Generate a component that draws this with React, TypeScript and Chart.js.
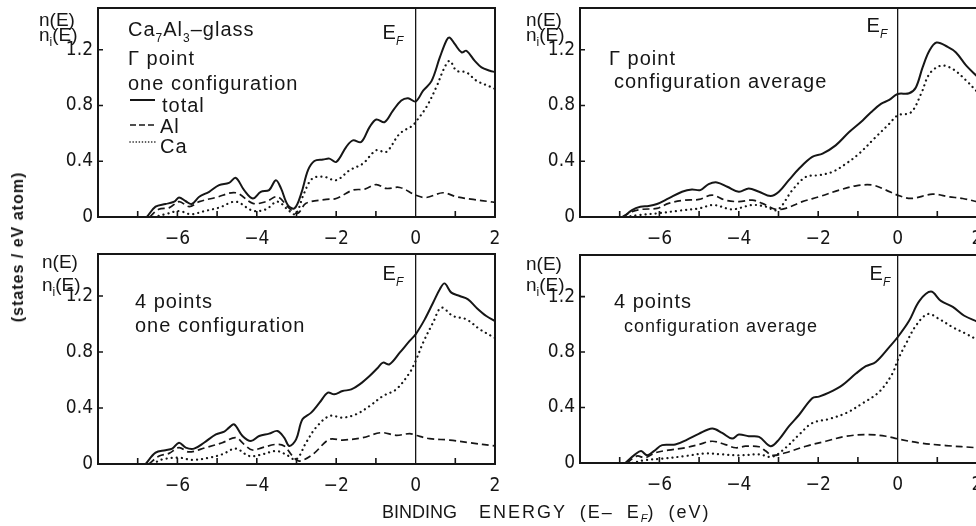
import React, { useEffect, useRef } from 'react';
import { Chart, registerables } from 'chart.js';

Chart.register(...registerables);

// ---- axis ticks -------------------------------------------------------
const xAllTicks = [-8, -7, -6, -5, -4, -3, -2, -1, 0, 1, 2];
const xInnerTicks = [-7, -6, -5, -4, -3, -2, -1, 1];
const xLabelValues = [-6, -4, -2, 0, 2];
const xTickLabels = ['\u22126', '\u22124', '\u22122', '0', '2'];
const yTickValues = [0, 0.4, 0.8, 1.2];
const yTickLabels = ['0', '0.4', '0.8', '1.2'];

// ---- densities of states: [E - E_F (eV), n (states/eV atom)] ----------
// Γ point, one configuration
const gammaOneTotal = [[-6.77,0],[-6.55,0.074],[-6.3,0.093],[-6.08,0.11],[-5.96,0.14],[-5.79,0.113],[-5.64,0.093],[-5.45,0.145],[-5.2,0.181],[-4.95,0.229],[-4.7,0.245],[-4.53,0.281],[-4.32,0.193],[-4.1,0.133],[-3.9,0.181],[-3.69,0.193],[-3.52,0.264],[-3.39,0.205],[-3.22,0.086],[-3.05,0.062],[-2.88,0.169],[-2.71,0.336],[-2.55,0.402],[-2.33,0.412],[-2.17,0.419],[-2.0,0.395],[-1.75,0.502],[-1.58,0.55],[-1.37,0.538],[-1.16,0.645],[-0.99,0.7],[-0.78,0.681],[-0.57,0.764],[-0.36,0.836],[-0.19,0.853],[0,0.829],[0.19,0.907],[0.4,0.975],[0.61,1.145],[0.78,1.269],[0.86,1.288],[0.99,1.24],[1.16,1.181],[1.28,1.193],[1.49,1.121],[1.66,1.074],[1.87,1.05],[2,1.04]];
const gammaOneAl = [[-6.7,0],[-6.47,0.055],[-6.2,0.067],[-5.96,0.11],[-5.7,0.074],[-5.45,0.11],[-5.03,0.14],[-4.53,0.174],[-4.1,0.098],[-3.77,0.11],[-3.48,0.145],[-3.18,0.062],[-2.97,0.026],[-2.76,0.098],[-2.25,0.126],[-2.0,0.133],[-1.58,0.193],[-1.28,0.2],[-0.99,0.233],[-0.74,0.205],[-0.4,0.212],[0,0.157],[0.27,0.14],[0.69,0.174],[1.03,0.145],[1.45,0.126],[1.87,0.11],[2,0.105]];
const gammaOneCa = [[-6.6,0],[-6.3,0.02],[-5.96,0.043],[-5.66,0.02],[-5.28,0.045],[-4.95,0.067],[-4.53,0.11],[-4.1,0.045],[-3.77,0.055],[-3.48,0.11],[-3.18,0.043],[-3.02,0.02],[-2.81,0.17],[-2.6,0.276],[-2.3,0.288],[-2.0,0.264],[-1.66,0.336],[-1.33,0.383],[-0.99,0.479],[-0.74,0.467],[-0.4,0.598],[-0.07,0.657],[0,0.681],[0.27,0.788],[0.52,0.931],[0.73,1.074],[0.86,1.121],[1.03,1.05],[1.28,1.038],[1.53,0.979],[1.87,0.936],[2,0.92]];

// Γ point, configuration average
const gammaAvgTotal = [[-6.9,0],[-6.69,0.05],[-6.48,0.074],[-6.27,0.079],[-6.06,0.093],[-5.77,0.133],[-5.43,0.181],[-5.18,0.198],[-4.97,0.193],[-4.76,0.236],[-4.55,0.248],[-4.29,0.217],[-4.0,0.181],[-3.75,0.205],[-3.49,0.181],[-3.2,0.15],[-2.99,0.181],[-2.74,0.264],[-2.48,0.348],[-2.15,0.431],[-1.89,0.455],[-1.56,0.514],[-1.22,0.61],[-0.88,0.693],[-0.67,0.752],[-0.42,0.812],[-0.21,0.84],[0,0.883],[0.29,0.888],[0.46,0.93],[0.63,1.074],[0.8,1.193],[0.98,1.252],[1.26,1.221],[1.47,1.181],[1.73,1.086],[2,1.01]];
const gammaAvgAl = [[-6.94,0],[-6.69,0.038],[-6.44,0.055],[-6.06,0.062],[-5.77,0.098],[-5.35,0.121],[-5.0,0.126],[-4.67,0.157],[-4.34,0.121],[-4.0,0.11],[-3.66,0.121],[-3.41,0.098],[-3.07,0.055],[-2.82,0.062],[-2.4,0.11],[-1.98,0.145],[-1.47,0.193],[-1.05,0.224],[-0.63,0.229],[-0.29,0.193],[0,0.157],[0.34,0.133],[0.88,0.164],[1.3,0.145],[1.64,0.133],[2,0.11]];
const gammaAvgCa = [[-6.86,0],[-6.52,0.014],[-6.06,0.026],[-5.51,0.045],[-5.0,0.062],[-4.63,0.086],[-4.17,0.055],[-3.66,0.086],[-3.32,0.074],[-3.03,0.05],[-2.65,0.193],[-2.31,0.288],[-1.98,0.3],[-1.64,0.324],[-1.3,0.383],[-0.97,0.455],[-0.55,0.574],[-0.21,0.669],[0,0.729],[0.34,0.752],[0.59,0.883],[0.8,1.026],[1.09,1.086],[1.39,1.062],[1.73,0.979],[2,0.9]];

// 4 k-points, one configuration
const fourOneTotal = [[-6.8,0],[-6.55,0.081],[-6.3,0.098],[-6.13,0.11],[-5.96,0.152],[-5.79,0.117],[-5.58,0.11],[-5.33,0.152],[-5.03,0.212],[-4.82,0.231],[-4.7,0.26],[-4.57,0.283],[-4.36,0.2],[-4.15,0.164],[-3.94,0.2],[-3.69,0.217],[-3.48,0.236],[-3.31,0.188],[-3.18,0.129],[-3.01,0.176],[-2.85,0.319],[-2.63,0.367],[-2.42,0.438],[-2.21,0.51],[-2.05,0.498],[-1.84,0.521],[-1.62,0.533],[-1.41,0.569],[-1.16,0.629],[-0.95,0.688],[-0.82,0.724],[-0.66,0.712],[-0.4,0.795],[-0.15,0.879],[0,0.926],[0.23,1.033],[0.44,1.152],[0.61,1.248],[0.73,1.29],[0.9,1.224],[1.11,1.2],[1.32,1.176],[1.53,1.117],[1.78,1.057],[2,1.02]];
const fourOneAl = [[-6.72,0],[-6.46,0.057],[-6.21,0.076],[-5.96,0.117],[-5.71,0.086],[-5.29,0.117],[-4.87,0.152],[-4.53,0.188],[-4.32,0.14],[-4.11,0.1],[-3.86,0.117],[-3.52,0.14],[-3.31,0.129],[-3.1,0.057],[-2.93,0.021],[-2.59,0.069],[-2.17,0.176],[-1.84,0.171],[-1.33,0.188],[-0.87,0.224],[-0.49,0.205],[-0.15,0.217],[0,0.205],[0.35,0.181],[0.86,0.171],[1.36,0.152],[2,0.129]];
const fourOneCa = [[-6.63,0],[-6.38,0.033],[-5.96,0.045],[-5.62,0.029],[-5.2,0.045],[-4.87,0.069],[-4.53,0.11],[-4.19,0.057],[-3.86,0.069],[-3.52,0.093],[-3.27,0.069],[-3.01,0.033],[-2.76,0.152],[-2.51,0.26],[-2.17,0.343],[-1.84,0.331],[-1.5,0.355],[-1.16,0.414],[-0.82,0.486],[-0.49,0.533],[-0.15,0.652],[0,0.736],[0.19,0.867],[0.44,1.01],[0.65,1.117],[0.94,1.057],[1.28,1.033],[1.62,0.962],[2,0.9]];

// 4 k-points, configuration average
const fourAvgTotal = [[-6.86,0],[-6.61,0.062],[-6.46,0.086],[-6.31,0.055],[-6.14,0.086],[-5.93,0.129],[-5.6,0.133],[-5.3,0.169],[-5.01,0.21],[-4.67,0.248],[-4.42,0.217],[-4.17,0.176],[-4.0,0.205],[-3.75,0.193],[-3.49,0.188],[-3.2,0.121],[-2.99,0.169],[-2.74,0.264],[-2.48,0.348],[-2.15,0.467],[-1.98,0.479],[-1.73,0.507],[-1.39,0.562],[-1.05,0.645],[-0.8,0.698],[-0.55,0.729],[-0.21,0.836],[0,0.907],[0.29,1.026],[0.55,1.169],[0.84,1.236],[1.09,1.169],[1.39,1.126],[1.68,1.062],[2,1.02]];
const fourAvgAl = [[-6.82,0],[-6.57,0.05],[-6.36,0.038],[-6.1,0.074],[-5.77,0.093],[-5.35,0.11],[-5.01,0.133],[-4.67,0.157],[-4.34,0.133],[-4.08,0.11],[-3.83,0.121],[-3.49,0.117],[-3.32,0.086],[-3.16,0.055],[-2.82,0.074],[-2.31,0.121],[-1.81,0.157],[-1.3,0.193],[-0.72,0.205],[-0.29,0.193],[0,0.174],[0.55,0.145],[1.22,0.126],[2,0.11]];
const fourAvgCa = [[-6.69,0],[-6.36,0.021],[-5.93,0.031],[-5.35,0.05],[-4.84,0.069],[-4.42,0.062],[-4.0,0.055],[-3.49,0.062],[-3.16,0.045],[-2.82,0.11],[-2.48,0.205],[-2.15,0.288],[-1.73,0.317],[-1.3,0.36],[-0.88,0.431],[-0.46,0.514],[-0.13,0.645],[0,0.74],[0.21,0.86],[0.46,0.99],[0.76,1.074],[1.05,1.038],[1.39,0.979],[1.73,0.931],[2,0.89]];

// ---- styling ----------------------------------------------------------
const INK = '#161616';
const TEXT_FONT = "'Liberation Sans', Arial, sans-serif";
const TICK_FONT = "'Liberation Sans Narrow', 'DejaVu Sans Condensed', 'Liberation Sans', sans-serif";

type Run = { t: string; sub?: boolean; italic?: boolean };
type Note = { runs: Run[]; dx: number; dy: number; size: number };

interface PanelSpec {
  id: string;
  left: number; top: number; width: number; height: number;
  area: { l: number; t: number; r: number; b: number };
  total: number[][]; al: number[][]; ca: number[][];
  nLab: { dx: number; y1: number; y2: number };
  ef: { dx: number; dy: number };
  notes: Note[];
  legend: boolean;
}

const panels: PanelSpec[] = [
  {
    id: 'gammaOne', left: 0, top: 0, width: 500, height: 250,
    area: { l: 98, t: 8, r: 495, b: 217 },
    total: gammaOneTotal, al: gammaOneAl, ca: gammaOneCa,
    nLab: { dx: -59, y1: 18, y2: 33 },
    ef: { dx: -33, dy: 31 },
    notes: [
      { runs: [{ t: 'Ca' }, { t: '7', sub: true }, { t: 'Al' }, { t: '3', sub: true }, { t: '\u2013glass' }], dx: 30, dy: 28, size: 20 },
      { runs: [{ t: '\u0393 point' }], dx: 30, dy: 57, size: 20 },
      { runs: [{ t: 'one configuration' }], dx: 30, dy: 82, size: 20 },
    ],
    legend: true,
  },
  {
    id: 'gammaAvg', left: 500, top: 0, width: 480, height: 250,
    area: { l: 580, t: 8, r: 977, b: 217 },
    total: gammaAvgTotal, al: gammaAvgAl, ca: gammaAvgCa,
    nLab: { dx: -54, y1: 18, y2: 33 },
    ef: { dx: -31, dy: 24 },
    notes: [
      { runs: [{ t: '\u0393 point' }], dx: 29, dy: 57, size: 20 },
      { runs: [{ t: 'configuration average' }], dx: 34, dy: 80, size: 20 },
    ],
    legend: false,
  },
  {
    id: 'fourOne', left: 0, top: 250, width: 500, height: 276,
    area: { l: 98, t: 254, r: 495, b: 464 },
    total: fourOneTotal, al: fourOneAl, ca: fourOneCa,
    nLab: { dx: -56, y1: 14, y2: 37 },
    ef: { dx: -33, dy: 26 },
    notes: [
      { runs: [{ t: '4 points' }], dx: 37, dy: 54, size: 20 },
      { runs: [{ t: 'one configuration' }], dx: 37, dy: 78, size: 20 },
    ],
    legend: false,
  },
  {
    id: 'fourAvg', left: 500, top: 250, width: 480, height: 276,
    area: { l: 580, t: 255, r: 977, b: 463 },
    total: fourAvgTotal, al: fourAvgAl, ca: fourAvgCa,
    nLab: { dx: -54, y1: 15, y2: 36 },
    ef: { dx: -28, dy: 25 },
    notes: [
      { runs: [{ t: '4 points' }], dx: 34, dy: 53, size: 20 },
      { runs: [{ t: 'configuration average' }], dx: 44, dy: 77, size: 18 },
    ],
    legend: false,
  },
];

function drawRuns(ctx: CanvasRenderingContext2D, x: number, y: number, runs: Run[], size: number, spacing = 0) {
  let cx = x;
  for (const r of runs) {
    const s = r.sub ? Math.round(size * 0.62) : size;
    ctx.font = `${r.italic ? 'italic ' : ''}${s}px ${TEXT_FONT}`;
    (ctx as any).letterSpacing = `${spacing}px`;
    const yy = r.sub ? y + size * 0.28 : y;
    ctx.fillText(r.t, cx, yy);
    cx += ctx.measureText(r.t).width;
  }
  (ctx as any).letterSpacing = '0px';
  return cx;
}

function makeDecor(spec: PanelSpec) {
  return {
    id: 'decor_' + spec.id,
    afterDraw(chart: any) {
      const ctx: CanvasRenderingContext2D = chart.ctx;
      const { left, right, top, bottom } = chart.chartArea;
      const xs = chart.scales.x;
      const ys = chart.scales.y;
      ctx.save();
      ctx.strokeStyle = INK;
      ctx.fillStyle = INK;
      ctx.lineWidth = 2;
      ctx.strokeRect(left, top, right - left, bottom - top);

      // inward tick marks
      ctx.lineWidth = 1.6;
      ctx.beginPath();
      xInnerTicks.forEach((v) => {
        const px = xs.getPixelForValue(v);
        ctx.moveTo(px, bottom);
        ctx.lineTo(px, bottom - 6);
      });
      yTickValues.filter((v) => v > 0).forEach((v) => {
        const py = ys.getPixelForValue(v);
        ctx.moveTo(left, py);
        ctx.lineTo(left + 5, py);
      });
      ctx.stroke();

      ctx.textBaseline = 'alphabetic';
      ctx.textAlign = 'left';

      // n(E) / n_i(E)
      const nx = left + spec.nLab.dx;
      drawRuns(ctx, nx, top + spec.nLab.y1, [{ t: 'n(E)' }], 19);
      drawRuns(ctx, nx, top + spec.nLab.y2, [{ t: 'n' }, { t: 'i', sub: true }, { t: '(E)' }], 19);

      // Fermi level marker
      const x0 = xs.getPixelForValue(0);
      drawRuns(ctx, x0 + spec.ef.dx, top + spec.ef.dy, [{ t: 'E' }, { t: 'F', sub: true, italic: true }], 20);

      // panel captions
      spec.notes.forEach((n) => drawRuns(ctx, left + n.dx, top + n.dy, n.runs, n.size, 1));

      if (spec.legend) {
        const lx = left + 32;
        ctx.lineWidth = 2;
        ctx.beginPath();
        ctx.moveTo(lx, top + 92);
        ctx.lineTo(lx + 25, top + 92);
        ctx.stroke();
        ctx.lineWidth = 1.6;
        ctx.setLineDash([6, 3]);
        ctx.beginPath();
        ctx.moveTo(lx, top + 117);
        ctx.lineTo(lx + 25, top + 117);
        ctx.stroke();
        ctx.lineWidth = 1.6;
        ctx.lineCap = 'round';
        ctx.setLineDash([0.1, 3]);
        ctx.beginPath();
        ctx.moveTo(lx, top + 134);
        ctx.lineTo(lx + 27, top + 134);
        ctx.stroke();
        ctx.setLineDash([]);
        drawRuns(ctx, left + 64, top + 104, [{ t: 'total' }], 20, 1);
        drawRuns(ctx, left + 62, top + 125, [{ t: 'Al' }], 20, 1);
        drawRuns(ctx, left + 62, top + 145, [{ t: 'Ca' }], 20, 1);
      }
      ctx.restore();
    },
  };
}

const toXY = (pts: number[][]) => pts.map(([x, y]) => ({ x, y }));

function Panel({ spec }: { spec: PanelSpec }) {
  const ref = useRef<HTMLCanvasElement | null>(null);
  useEffect(() => {
    if (!ref.current) return;
    const yAxisWidth = spec.area.l - spec.left;
    const xAxisHeight = spec.top + spec.height - spec.area.b;
    const chart = new Chart(ref.current, {
      type: 'line',
      data: {
        datasets: [
          { label: 'total', data: toXY(spec.total), borderColor: INK, borderWidth: 2, tension: 0.35, pointRadius: 0, fill: false },
          { label: 'Al', data: toXY(spec.al), borderColor: INK, borderWidth: 1.7, borderDash: [7, 4], tension: 0.35, pointRadius: 0, fill: false },
          { label: 'Ca', data: toXY(spec.ca), borderColor: INK, borderWidth: 2.2, borderDash: [0.1, 5], borderCapStyle: 'round', tension: 0.35, pointRadius: 0, fill: false },
        ],
      },
      options: {
        responsive: false,
        animation: false,
        events: [],
        layout: {
          padding: {
            left: 0,
            top: spec.area.t - spec.top,
            right: spec.left + spec.width - spec.area.r,
            bottom: 0,
          },
        },
        plugins: { legend: { display: false }, tooltip: { enabled: false }, title: { display: false } },
        scales: {
          x: {
            type: 'linear',
            min: -8,
            max: 2,
            afterBuildTicks: (s: any) => { s.ticks = xAllTicks.map((v) => ({ value: v })); },
            afterFit: (s: any) => { s.height = xAxisHeight; s.paddingLeft = 0; s.paddingRight = 0; },
            ticks: {
              autoSkip: false,
              maxRotation: 0,
              padding: 11,
              color: INK,
              font: { family: TICK_FONT, size: 19 },
              callback: (v: any) => {
                const i = xLabelValues.indexOf(Number(v));
                return i >= 0 ? xTickLabels[i] : '';
              },
            },
            grid: {
              drawTicks: false,
              drawOnChartArea: true,
              lineWidth: 1.3,
              color: (c: any) => (c.tick && c.tick.value === 0 ? INK : 'rgba(0,0,0,0)'),
            },
            border: { display: false },
          },
          y: {
            type: 'linear',
            min: 0,
            max: 1.5,
            afterBuildTicks: (s: any) => { s.ticks = yTickValues.map((v) => ({ value: v })); },
            afterFit: (s: any) => { s.width = yAxisWidth; s.paddingTop = 0; s.paddingBottom = 0; },
            ticks: {
              padding: 5,
              color: INK,
              font: { family: TICK_FONT, size: 19 },
              callback: (v: any) => {
                const i = yTickValues.indexOf(Number(v));
                return i >= 0 ? yTickLabels[i] : '';
              },
            },
            grid: { display: false, drawTicks: false },
            border: { display: false },
          },
        },
      },
      plugins: [makeDecor(spec)],
    } as any);
    return () => chart.destroy();
  }, [spec]);
  return (
    <canvas
      ref={ref}
      width={spec.width}
      height={spec.height}
      style={{ position: 'absolute', left: spec.left, top: spec.top, width: spec.width, height: spec.height, display: 'block' }}
    />
  );
}

export default function App() {
  return (
    <div style={{ position: 'absolute', left: 0, top: 0, width: 976, height: 526, overflow: 'hidden', background: '#fff' }}>
      {panels.map((p) => (
        <Panel key={p.id} spec={p} />
      ))}
      <div
        style={{
          position: 'absolute', left: 18, top: 247,
          transform: 'translate(-50%, -50%) rotate(-90deg)',
          font: `bold 16px ${TEXT_FONT}`, letterSpacing: '1px', whiteSpace: 'nowrap', color: INK,
        }}
      >
        (states / eV atom)
      </div>
      <div
        style={{
          position: 'absolute', left: 382, top: 502, lineHeight: '18px',
          font: `18px ${TEXT_FONT}`, whiteSpace: 'nowrap', color: INK,
        }}
      >
        <span style={{ letterSpacing: '0px' }}>BINDING</span>
        <span style={{ marginLeft: 22, letterSpacing: '2px', wordSpacing: '6px' }}>ENERGY (E{'\u2013'} E</span>
        <span style={{ fontSize: 11, fontStyle: 'italic', position: 'relative', top: 4 }}>F</span>
        <span style={{ letterSpacing: '2px', wordSpacing: '6px' }}>) (eV)</span>
      </div>
    </div>
  );
}
